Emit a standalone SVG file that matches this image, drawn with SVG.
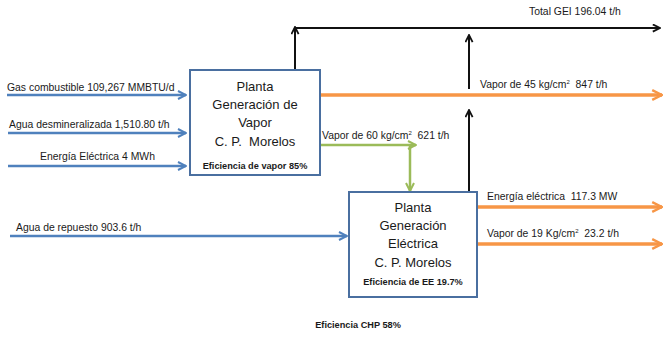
<svg xmlns="http://www.w3.org/2000/svg" width="664" height="337" viewBox="0 0 664 337">
  <style>
    text { font-family: "Liberation Sans", Arial, sans-serif; fill: #1a1a1a; white-space: pre; }
    .lbl { font-size: 10.4px; }
    .box-t { font-size: 13px; text-anchor: middle; }
    .eff { font-size: 9.2px; font-weight: bold; text-anchor: middle; }
    .box { fill: #ffffff; stroke: #4a6fa0; stroke-width: 2; }
    .blue { stroke: #4f81bd; stroke-width: 2.5; fill: none; marker-end: url(#ah-blue); }
    .orange { stroke: #f79646; stroke-width: 3.5; fill: none; marker-end: url(#ah-orange); }
    .green { stroke: #9bbb59; stroke-width: 2.5; fill: none; marker-end: url(#ah-green); }
    .black { stroke: #111111; stroke-width: 2; fill: none; marker-end: url(#ah-black); }
  </style>
  <defs>
    <marker id="ah-blue" viewBox="0 0 10 10" refX="9" refY="5" markerWidth="4" markerHeight="4" orient="auto" markerUnits="strokeWidth">
      <path d="M1,1 L9,5 L1,9" fill="none" stroke="#4f81bd" stroke-width="2"/>
    </marker>
    <marker id="ah-orange" viewBox="0 0 10 10" refX="9" refY="5" markerWidth="3.5" markerHeight="3.5" orient="auto" markerUnits="strokeWidth">
      <path d="M1,1 L9,5 L1,9" fill="none" stroke="#f79646" stroke-width="2"/>
    </marker>
    <marker id="ah-green" viewBox="0 0 10 10" refX="9" refY="5" markerWidth="4" markerHeight="4" orient="auto" markerUnits="strokeWidth">
      <path d="M1,1 L9,5 L1,9" fill="none" stroke="#9bbb59" stroke-width="2"/>
    </marker>
    <marker id="ah-black" viewBox="0 0 10 10" refX="9" refY="5" markerWidth="4.5" markerHeight="4.5" orient="auto" markerUnits="strokeWidth">
      <path d="M1,1 L9,5 L1,9" fill="none" stroke="#111111" stroke-width="2"/>
    </marker>
  </defs>

  <rect width="664" height="337" fill="#ffffff"/>

  <g id="connectors">
    <!-- inputs to steam plant -->
    <line class="blue" x1="7" y1="95" x2="186" y2="95"/>
    <line class="blue" x1="8" y1="133" x2="186" y2="133"/>
    <line class="blue" x1="8" y1="166" x2="186" y2="166"/>
    <!-- make-up water to power plant -->
    <line class="blue" x1="10" y1="236" x2="347" y2="236"/>
    <!-- steam 60 kg/cm2 transfer -->
    <line class="green" x1="321" y1="145" x2="416" y2="145"/>
    <line class="green" x1="410" y1="145" x2="410" y2="191"/>
    <!-- steam 45 kg/cm2 output -->
    <line class="orange" x1="321" y1="95" x2="662" y2="95"/>
    <!-- power plant outputs -->
    <line class="orange" x1="478" y1="207" x2="662" y2="207"/>
    <line class="orange" x1="478" y1="244" x2="662" y2="244"/>
    <!-- GHG emissions -->
    <line class="black" x1="295" y1="70" x2="295" y2="27"/>
    <line class="black" x1="295" y1="28" x2="660" y2="28"/>
    <line class="black" x1="469" y1="89" x2="469" y2="35"/>
    <line class="black" x1="469" y1="191" x2="469" y2="110"/>
  </g>

  <g id="labels">
    <text class="lbl" x="7" y="91">Gas combustible 109,267 MMBTU/d</text>
    <text class="lbl" x="9" y="128">Agua desmineralizada 1,510.80 t/h</text>
    <text class="lbl" x="40" y="160">Energía Eléctrica 4 MWh</text>
    <text class="lbl" x="16" y="231">Agua de repuesto 903.6 t/h</text>
    <text class="lbl" x="322" y="139">Vapor de 60 kg/cm<tspan font-size="6" dy="-4">2</tspan><tspan dy="4">  621 t/h</tspan></text>
    <text class="lbl" x="480" y="88">Vapor de 45 kg/cm<tspan font-size="6" dy="-4">2</tspan><tspan dy="4">  847 t/h</tspan></text>
    <text class="lbl" x="529" y="15">Total GEI 196.04 t/h</text>
    <text class="lbl" x="487" y="200">Energía eléctrica  117.3 MW</text>
    <text class="lbl" x="487" y="237">Vapor de 19 Kg/cm<tspan font-size="6" dy="-4">2</tspan><tspan dy="4">  23.2 t/h</tspan></text>
    <text class="eff" x="358" y="328" font-size="8.8">Eficiencia CHP 58%</text>
  </g>

  <g id="steam-plant">
    <rect class="box" x="190" y="70" width="130" height="105"/>
    <text class="box-t" x="255" y="91">Planta</text>
    <text class="box-t" x="255" y="109">Generación de</text>
    <text class="box-t" x="255" y="127">Vapor</text>
    <text class="box-t" x="255" y="146">C. P.  Morelos</text>
    <text class="eff" x="255" y="169">Eficiencia de vapor 85%</text>
  </g>

  <g id="power-plant">
    <rect class="box" x="349" y="192" width="128" height="105"/>
    <text class="box-t" x="413" y="212">Planta</text>
    <text class="box-t" x="413" y="230">Generación</text>
    <text class="box-t" x="413" y="248">Eléctrica</text>
    <text class="box-t" x="413" y="267">C. P. Morelos</text>
    <text class="eff" x="413" y="285">Eficiencia de EE 19.7%</text>
  </g>
</svg>
